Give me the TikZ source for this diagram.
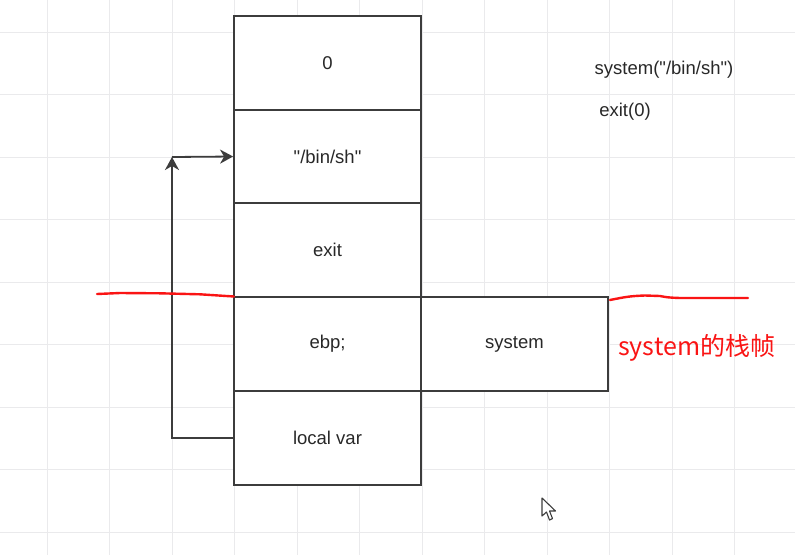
\documentclass[tikz,border=0pt]{standalone}
\usepackage{fontspec}
\setmainfont{Liberation Sans}[Ligatures=TeXOff]
\newfontfamily\cjk{Noto Sans CJK SC}
\usetikzlibrary{arrows.meta}
\definecolor{gridc}{RGB}{234,234,236}
\definecolor{boxc}{RGB}{60,60,60}
\definecolor{txtc}{RGB}{40,40,40}
\definecolor{redc}{RGB}{250,20,20}
\tikzset{
  cell/.style={draw=boxc, line width=1.8pt, minimum width=187pt, minimum height=93.7pt,
    inner sep=0pt, text=txtc, font=\fontsize{18.5}{21}\selectfont},
  plain/.style={text=txtc, inner sep=0pt, font=\fontsize{18.5}{21}\selectfont},
  arr/.style={draw=boxc, line width=1.8pt, -{Stealth[length=13pt,width=14pt,inset=4pt]}},
  redline/.style={draw=redc, line width=2.4pt, line cap=round, line join=round},
}
\begin{document}
\begin{tikzpicture}[x=1pt,y=-1pt]
\useasboundingbox (0,0) rectangle (795,555);
\fill[white] (0,0) rectangle (795,555);
% grid
\foreach \gx in {47,109.5,172,234.5,297,359.5,422,484.5,547,609.5,672,734.5}
  \draw[gridc, line width=1pt] (\gx,0) -- (\gx,555);
\foreach \gy in {32,94.5,157,219.5,282,344.5,407,469.5,532}
  \draw[gridc, line width=1pt] (0,\gy) -- (795,\gy);
% stack cells
\node[cell, fill=white] (r0) at (327.5,63) {0};
\node[cell, fill=white] (r1) at (327.5,156.5) {"/bin/sh"};
\node[cell, fill=white] (r2) at (327.5,250) {exit};
\node[cell, fill=white] (r3) at (327.5,344) {ebp;};
\node[cell, fill=white] (r4) at (327.5,438) {local var};
\node[cell, fill=white] (sys) at (514.5,344) {system};
% notes
\node[plain] (n1) at (664,70) {system("/bin/sh")};
\node[plain] (n2) at (625,112) {exit(0)};
% arrows
\coordinate (c) at (172,157);
\draw[arr] (r4.west) -| (c);
\draw[arr] (c) -- (r1.west);
% red marks
\draw[redline] (97,294) -- (120,293) -- (160,293.3) -- (200,294.3) -- (234,296.5);
\draw[redline] (610,300) .. controls (625,297) and (630,296) .. (645,295.5) -- (660,296) .. controls (668,297.5) .. (680,298) -- (748,298);
\node[text=redc, inner sep=0pt, anchor=west, font=\cjk\fontsize{25}{28}\selectfont] (lbl) at (618,348) {system的栈帧};
% cursor
\draw[boxc, fill=white, line width=1.1pt, line join=round] (542,498) -- (542,516) -- (546.5,512) -- (549.5,520) -- (552.5,518.5) -- (549.5,511) -- (555.5,511) -- cycle;
\end{tikzpicture}
\end{document}
